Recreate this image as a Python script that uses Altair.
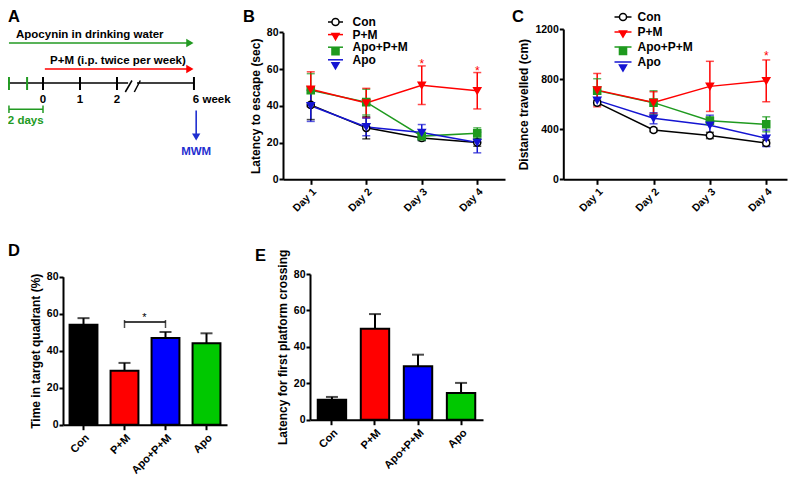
import altair as alt
import pandas as pd

# ---------------------------------------------------------------- data
groups = ["Con", "P+M", "Apo+P+M", "Apo"]
days = ["Day 1", "Day 2", "Day 3", "Day 4"]

# B: latency to escape (sec), mean and SEM
lat_con = [40.5, 28.0, 22.5, 20.0]
lat_pm = [49.0, 41.5, 51.2, 48.2]
lat_apo_pm = [48.5, 42.0, 23.5, 25.0]
lat_apo = [40.0, 28.5, 25.5, 20.0]
lat_con_sem = [8.0, 6.0, 1.5, 2.0]
lat_pm_sem = [9.5, 8.0, 10.5, 9.9]
lat_apo_pm_sem = [9.0, 7.0, 2.0, 3.0]
lat_apo_sem = [8.5, 4.8, 4.3, 5.6]
lat_star_days = ["Day 3", "Day 4"]

# C: distance travelled (cm), mean and SEM
dist_con = [612, 394, 350, 290]
dist_pm = [712, 613, 742, 786]
dist_apo_pm = [708, 612, 468, 439]
dist_apo = [630, 487, 432, 327]
dist_con_sem = [20, 15, 25, 25]
dist_pm_sem = [133, 86, 200, 167]
dist_apo_pm_sem = [95, 95, 30, 60]
dist_apo_sem = [20, 44, 80, 66]
dist_star_days = ["Day 4"]

# D: time in target quadrant (%)
quad_mean = [54.0, 29.2, 46.9, 44.0]
quad_sem = [3.6, 4.2, 3.2, 5.4]
quad_sig_pair = ["P+M", "Apo+P+M"]
quad_sig_level = [55.5]

# E: latency for first platform crossing
cross_mean = [11.0, 50.0, 29.3, 14.7]
cross_sem = [1.5, 8.0, 6.4, 5.5]

# A: schematic timeline (1 unit = 1 week for weeks 0-2, broken axis afterwards)
tl_ticks = [-0.92, -0.43, 0, 1, 2, 4.08]
tl_tick_is_day = [True, True, False, False, False, False]
tl_numbers = ["0", "1", "2"]
tl_number_pos = [0, 1, 2]
tl_end_label = "6 week"
arrow_text = ["Apocynin in drinking water", "P+M (i.p. twice per week)"]
arrow_start = [-0.92, 0.05]
arrow_text_start = [-0.73, 0.19]

# ---------------------------------------------------------------- styles / layout
FONT = "Liberation Sans"
W, H = 780, 467
line_colors = ["#000000", "#ff0000", "#1f9a1f", "#1414d2"]
point_fills = ["#ffffff", "#ff0000", "#1f9a1f", "#1414d2"]
shapes = ["circle", "triangle-down", "square", "triangle-down"]
bar_colors = ["#000000", "#ff0000", "#0000ff", "#00c800"]
draw_order = ["Con", "Apo+P+M", "P+M", "Apo"]
A_GREEN, A_RED, A_BLUE = "#229a22", "#ff0000", "#1f2fd0"


def line_panel(means, sems, star_days, ydom, yvals, ytitle, xr, yr, xpad, xalign,
               leg_x, leg_y, leg_rowpad, leg_len, leg_gap, star_dy):
    rows = []
    for g in draw_order:
        for d, m, s in zip(days, means[g], sems[g]):
            rows.append({"series": g, "day": d, "mean": m, "lo": m - s, "hi": m + s})
    df = pd.DataFrame(rows)

    def xs():
        return alt.Scale(type="point", domain=days, range=xr, padding=xpad, align=xalign)

    def ys():
        return alt.Scale(domain=ydom, range=yr)

    def col(legend=None):
        return alt.Color("series:N", scale=alt.Scale(domain=groups, range=line_colors),
                         legend=legend)

    xax = alt.Axis(title=None, orient="bottom", offset=yr[0] - H, labelAngle=-45,
                   labelFontSize=10.5, tickSize=5, labelPadding=2, labelOverlap=False)
    yax = alt.Axis(title=ytitle, orient="left", offset=-xr[0], values=yvals, tickSize=4,
                   format="d")
    half = leg_len / 7.5
    line_leg = alt.Legend(title=None, orient="none", legendX=leg_x, legendY=leg_y,
                          symbolType=f"M-{half:.3f},0H{half:.3f}", symbolSize=56.25,
                          symbolStrokeWidth=1.5, symbolFillColor="transparent",
                          labelFontSize=12, labelFontWeight="bold", labelColor="black",
                          labelOffset=leg_gap, rowPadding=leg_rowpad, padding=0)
    mk = 50
    pt_leg = alt.Legend(title=None, orient="none", legendX=leg_x, legendY=leg_y,
                        symbolSize=mk, symbolStrokeWidth=1.5, labelFontSize=12,
                        labelFontWeight="bold", labelExpr="' '", labelOffset=leg_gap,
                        rowPadding=leg_rowpad, padding=0)
    base = alt.Chart(df)
    lines = base.mark_line(strokeWidth=1.5).encode(
        x=alt.X("day:N", scale=xs(), axis=xax),
        y=alt.Y("mean:Q", scale=ys(), axis=yax),
        color=col(line_leg),
    )
    err = base.mark_rule(strokeWidth=1.5).encode(
        x=alt.X("day:N", scale=xs(), axis=None),
        y=alt.Y("lo:Q", scale=ys(), axis=None), y2="hi:Q", color=col())
    caps = base.transform_fold(["lo", "hi"], as_=["which", "val"]).mark_tick(
        orient="horizontal", size=8, thickness=1.5).encode(
        x=alt.X("day:N", scale=xs(), axis=None),
        y=alt.Y("val:Q", scale=ys(), axis=None), color=col())
    pts = base.mark_point(filled=True, size=mk, strokeWidth=1.5, opacity=1).encode(
        x=alt.X("day:N", scale=xs(), axis=None),
        y=alt.Y("mean:Q", scale=ys(), axis=None),
        shape=alt.Shape("series:N", scale=alt.Scale(domain=groups, range=shapes), legend=pt_leg),
        fill=alt.Fill("series:N", scale=alt.Scale(domain=groups, range=point_fills), legend=pt_leg),
        stroke=alt.Stroke("series:N", scale=alt.Scale(domain=groups, range=line_colors), legend=pt_leg),
    )
    star_df = df[(df["series"] == "P+M") & (df["day"].isin(star_days))]
    stars = alt.Chart(star_df).mark_text(text="*", color="#ff0000", fontSize=12,
                                         baseline="alphabetic", dy=star_dy).encode(
        x=alt.X("day:N", scale=xs(), axis=None),
        y=alt.Y("hi:Q", scale=ys(), axis=None))
    return [lines, err, caps, pts, stars]


def bar_panel(means, sems, ytitle, xr, yr, pin, pout, sig=None):
    df = pd.DataFrame({"group": groups, "mean": means,
                       "hi": [m + s for m, s in zip(means, sems)]})

    def xs():
        return alt.Scale(domain=groups, range=xr, paddingInner=pin, paddingOuter=pout)

    def ys():
        return alt.Scale(domain=[0, 80], range=yr)

    xax = alt.Axis(title=None, orient="bottom", offset=yr[0] - H, labelAngle=-45,
                   labelFontSize=11, tickSize=5, labelPadding=2, labelOverlap=False)
    yax = alt.Axis(title=ytitle, orient="left", offset=-xr[0], values=[0, 20, 40, 60, 80],
                   tickSize=4)
    base = alt.Chart(df)
    bars = base.mark_bar(stroke="black", strokeWidth=2).encode(
        x=alt.X("group:N", scale=xs(), axis=xax),
        y=alt.Y("mean:Q", scale=ys(), axis=yax),
        fill=alt.Fill("group:N", scale=alt.Scale(domain=groups, range=bar_colors), legend=None))
    err = base.mark_rule(color="black", strokeWidth=2).encode(
        x=alt.X("group:N", scale=xs(), axis=None),
        y=alt.Y("mean:Q", scale=ys(), axis=None), y2="hi:Q")
    cap = base.mark_tick(color="black", orient="horizontal", size=12, thickness=2).encode(
        x=alt.X("group:N", scale=xs(), axis=None),
        y=alt.Y("hi:Q", scale=ys(), axis=None))
    layers = [bars, err, cap]
    if sig is not None:
        sdf = pd.DataFrame({"a": [sig[0][0]], "b": [sig[0][1]], "lvl": sig[1]})
        ends = pd.DataFrame({"g": sig[0], "lvl": sig[1] * 2})
        layers.append(alt.Chart(sdf).mark_rule(color="black", strokeWidth=1.5).encode(
            x=alt.X("a:N", scale=xs(), axis=None), x2="b:N",
            y=alt.Y("lvl:Q", scale=ys(), axis=None)))
        layers.append(alt.Chart(ends).mark_tick(color="black", orient="vertical", size=8,
                                                thickness=1.5, yOffset=2).encode(
            x=alt.X("g:N", scale=xs(), axis=None), y=alt.Y("lvl:Q", scale=ys(), axis=None)))
        layers.append(alt.Chart(sdf).mark_text(text="*", color="black", fontSize=11,
                                               baseline="alphabetic", dx=20, dy=-1).encode(
            x=alt.X("a:N", scale=xs(), axis=None), y=alt.Y("lvl:Q", scale=ys(), axis=None)))
    return layers


# ---------------------------------------------------------------- panel A
def AX(f):
    return alt.X(f, type="quantitative", scale=alt.Scale(domain=[-1, 4.3], range=[-2, 194.1]),
                 axis=None)


def AY(f):
    return alt.Y(f, type="quantitative", scale=alt.Scale(domain=[0, 160], range=[-8, 152]),
                 axis=None)


def txt(df, align, color):
    return alt.Chart(df).mark_text(align=align, baseline="middle", fontSize=11.5,
                                   fontWeight="bold", color=color).encode(
        x=AX("x"), y=AY("y"), text="t:N")


arrows = pd.DataFrame({"x0": arrow_start, "x1": [3.97, 3.97], "y": [43, 69],
                       "c": [A_GREEN, A_RED]})
shafts = alt.Chart(arrows).mark_rule(strokeWidth=1.6).encode(
    x=AX("x0"), x2="x1", y=AY("y"), color=alt.Color("c:N", scale=None))
heads = alt.Chart(arrows).mark_point(shape="triangle-right", filled=True, size=70,
                                     opacity=1).encode(
    x=AX("x1"), y=AY("y"), color=alt.Color("c:N", scale=None))
arrow_labels = txt(pd.DataFrame({"x": arrow_text_start, "y": [35, 61], "t": arrow_text}),
                   "left", "black")
segs = pd.DataFrame({"x0": [-0.92, 2.54], "x1": [2.30, 4.08], "y": [83, 83]})
tl_line = alt.Chart(segs).mark_rule(strokeWidth=1.6, color="black").encode(
    x=AX("x0"), x2="x1", y=AY("y"))
slashes = pd.DataFrame({"x0": [2.224, 2.468], "x1": [2.405, 2.63], "y0": [92, 92],
                        "y1": [80.5, 80.5]})
tl_break = alt.Chart(slashes).mark_rule(strokeWidth=1.5, color="black").encode(
    x=AX("x0"), x2="x1", y=AY("y0"), y2="y1")
ticks_df = pd.DataFrame({"x": tl_ticks, "y0": [77] * 6, "y1": [90] * 6,
                         "c": [A_GREEN if d else "black" for d in tl_tick_is_day]})
tl_ticks_m = alt.Chart(ticks_df).mark_rule(strokeWidth=2).encode(
    x=AX("x"), y=AY("y0"), y2="y1", color=alt.Color("c:N", scale=None))
tl_nums = txt(pd.DataFrame({"x": tl_number_pos, "y": [100] * 3, "t": tl_numbers}),
              "center", "black")
tl_end = txt(pd.DataFrame({"x": [tl_ticks[-1] - 0.03], "y": [100], "t": [tl_end_label]}),
             "left", "black")
brk = pd.DataFrame({"x0": [tl_ticks[0]], "x1": [0], "y": [109.3]})
bracket = alt.Chart(brk).mark_rule(strokeWidth=1.5, color=A_GREEN).encode(
    x=AX("x0"), x2="x1", y=AY("y"))
brk_ends = pd.DataFrame({"x": [tl_ticks[0], 0], "y0": [105.5, 105.5], "y1": [113, 113]})
bracket_ends = alt.Chart(brk_ends).mark_rule(strokeWidth=1.5, color=A_GREEN).encode(
    x=AX("x"), y=AY("y0"), y2="y1")
days_text = txt(pd.DataFrame({"x": [-0.95], "y": [120.5], "t": ["2 days"]}), "left", A_GREEN)
mwm = pd.DataFrame({"x": [4.14], "y0": [110.5], "y1": [137], "y": [152], "t": ["MWM"]})
mwm_shaft = alt.Chart(mwm).mark_rule(strokeWidth=1.6, color=A_BLUE).encode(
    x=AX("x"), y=AY("y0"), y2="y1")
mwm_head = alt.Chart(mwm).mark_point(shape="triangle-down", filled=True, size=70, opacity=1,
                                     color=A_BLUE).encode(x=AX("x"), y=AY("y1"))
mwm_text = txt(mwm, "center", A_BLUE)
panel_a = [shafts, heads, arrow_labels, tl_line, tl_break, tl_ticks_m, tl_nums, tl_end,
           bracket, bracket_ends, days_text, mwm_shaft, mwm_head, mwm_text]

# ---------------------------------------------------------------- panels B-E
lat_means = {"Con": lat_con, "P+M": lat_pm, "Apo+P+M": lat_apo_pm, "Apo": lat_apo}
lat_sems = {"Con": lat_con_sem, "P+M": lat_pm_sem, "Apo+P+M": lat_apo_pm_sem, "Apo": lat_apo_sem}
dist_means = {"Con": dist_con, "P+M": dist_pm, "Apo+P+M": dist_apo_pm, "Apo": dist_apo}
dist_sems = {"Con": dist_con_sem, "P+M": dist_pm_sem, "Apo+P+M": dist_apo_pm_sem, "Apo": dist_apo_sem}

panel_b = line_panel(lat_means, lat_sems, lat_star_days, [0, 80], [0, 20, 40, 60, 80],
                     "Latency to escape (sec)", [275, 497], [171.3, 24.3], 0.5, 0.5,
                     321.5, 8, 0.6, 15, 11, 2)
panel_c = line_panel(dist_means, dist_sems, dist_star_days, [0, 1200], [0, 400, 800, 1200],
                     "Distance travelled (cm)", [555.3, 779], [171.3, 21], 0.485, 0.62,
                     609, 3, 3, 17, 8.5, 0)
panel_d = bar_panel(quad_mean, quad_sem, "Time in target quadrant (%)", [55, 219],
                    [416.7, 268.7], 0.32, 0.16, sig=(quad_sig_pair, quad_sig_level))
panel_e = bar_panel(cross_mean, cross_sem, "Latency for first platform crossing", [302, 475],
                    [411.7, 266], 0.34, 0.18)


def letter(t, x, y):
    return alt.Chart(pd.DataFrame({"t": [t]})).mark_text(
        align="left", baseline="alphabetic", fontSize=16.5, fontWeight="bold",
        color="black").encode(text="t:N", x=alt.value(x), y=alt.value(y))


letters = [letter("A", 0, 13.5), letter("B", 235, 13.5), letter("C", 504, 13.5),
           letter("D", 0, 248), letter("E", 247, 253)]

chart = alt.layer(*panel_a, *panel_b, *panel_c, *panel_d, *panel_e, *letters).resolve_scale(
    x="independent", y="independent", color="independent", fill="independent",
    stroke="independent", shape="independent"
).resolve_axis(x="independent", y="independent").resolve_legend(
    color="independent", fill="independent", stroke="independent", shape="independent"
).properties(
    width=W, height=H, autosize=alt.AutoSizeParams(type="none"), padding=0
).configure_view(stroke=None).configure_axis(
    grid=False, domainColor="black", domainWidth=2, tickColor="black", tickWidth=2,
    labelColor="black", labelFont=FONT, labelFontWeight="bold", labelFontSize=10.5,
    labelPadding=1, titleFont=FONT, titleFontWeight="bold", titleFontSize=12,
    titleColor="black"
).configure_text(font=FONT).configure_legend(labelFont=FONT)

chart.save("out.html", embed_options={"renderer": "svg", "actions": False})
